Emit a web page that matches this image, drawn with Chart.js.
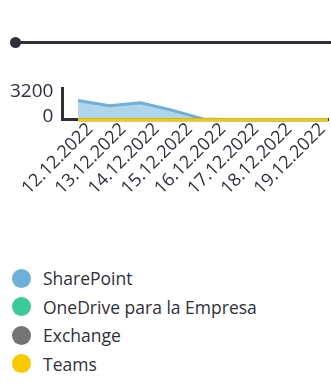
<!DOCTYPE html>
<html>
<head>
<meta charset="utf-8">
<script src="https://cdn.jsdelivr.net/npm/chart.js@4/dist/chart.umd.min.js"></script>
<style>
  html, body { margin: 0; padding: 0; background: #fff; }
  body { width: 331px; height: 383px; position: relative; overflow: hidden; font-family: "Open Sans", sans-serif; color: #2f2f3a; }
  #deco-line { position: absolute; left: 16px; top: 41px; width: 315px; height: 3px; background: #2f2f3a; }
  #deco-dot { position: absolute; left: 10px; top: 37px; width: 11px; height: 11px; border-radius: 50%; background: #2f2f3a; }
  #wrap { position: absolute; left: 0; top: 0; width: 331px; height: 198px; }
  #legend { position: absolute; left: 12px; top: 264px; }
  .item { display: flex; align-items: center; height: 28.5px; font-size: 17.5px; }
  .dot { width: 19px; height: 19px; border-radius: 50%; margin-right: 12px; flex: none; }
</style>
</head>
<body>
<div id="deco-line"></div>
<div id="deco-dot"></div>
<div id="wrap"><canvas id="c"></canvas></div>
<div id="legend"></div>
<script>
// ---- data ----
const dateLabels = ["12.12.2022","13.12.2022","14.12.2022","15.12.2022","16.12.2022","17.12.2022","18.12.2022","19.12.2022"];
const seriesNames = ["SharePoint","OneDrive para la Empresa","Exchange","Teams"];
const sharePoint = [2500, 1800, 2200, 1250, 100, 0, 0, 0, 0];
const oneDrive   = [0, 0, 0, 0, 0, 0, 0, 0, 0];
const exchange   = [0, 0, 0, 0, 0, 0, 0, 0, 0];
const teams      = [0, 0, 0, 0, 0, 0, 0, 0, 0];
const yTicks = [0, 3200];

const colors = ["#6fb0d8", "#3ccb98", "#747474", "#f8c800"];
const fills  = ["rgba(111,176,216,0.55)", null, null, null];
const allSeries = [sharePoint, oneDrive, exchange, teams];
const drawOrder = [3, 2, 1, 0];

const toPts = arr => arr.map((v, i) => ({ x: i, y: v }));

const datasets = allSeries.map((arr, k) => ({
  label: seriesNames[k],
  data: toPts(arr),
  xAxisID: 'x',
  yAxisID: 'y',
  borderColor: colors[k],
  backgroundColor: fills[k] || colors[k],
  fill: fills[k] ? 'origin' : false,
  borderWidth: 3,
  pointRadius: 0,
  tension: 0,
  clip: 4,
  order: drawOrder[k]
}));

const FONT = { family: "'Open Sans', sans-serif", size: 19 };
const XFONT = { family: "'Open Sans', sans-serif", size: 18 };
const TXT = "#2f2f3a";

new Chart(document.getElementById('c'), {
  type: 'line',
  data: { datasets },
  options: {
    responsive: true,
    maintainAspectRatio: false,
    animation: false,
    layout: { padding: { top: 0, left: 1, right: 3, bottom: 0 } },
    plugins: {
      legend: { display: false },
      tooltip: { enabled: false },
      title: { display: true, text: '', font: { size: 10, lineHeight: 1 }, padding: { top: 0, bottom: 78 } }
    },
    scales: {
      x: {
        type: 'linear',
        display: false,
        min: -0.5,
        max: sharePoint.length - 1
      },
      xl: {
        type: 'category',
        labels: dateLabels,
        position: 'bottom',
        offset: true,
        grid: { display: false, drawTicks: false },
        border: { display: true, color: "#2f2f3a", width: 3 },
        ticks: { color: TXT, font: XFONT, minRotation: 45, maxRotation: 45, autoSkip: false, padding: -1, labelOffset: 11 }
      },
      y: {
        type: 'linear',
        min: 0,
        max: 4100,
        afterBuildTicks: s => { s.ticks = yTicks.map(v => ({ value: v })); },
        grid: { display: false, drawTicks: false },
        border: { display: true, color: "#2f2f3a", width: 3 },
        ticks: { color: TXT, font: FONT, padding: 9, labelOffset: -3.5, autoSkip: false, callback: v => String(v) }
      }
    }
  }
});

const legend = document.getElementById('legend');
seriesNames.forEach((n, k) => {
  const it = document.createElement('div');
  it.className = 'item';
  const d = document.createElement('span');
  d.className = 'dot';
  d.style.background = colors[k];
  const t = document.createElement('span');
  t.textContent = n;
  it.appendChild(d); it.appendChild(t);
  legend.appendChild(it);
});
</script>
</body>
</html>
